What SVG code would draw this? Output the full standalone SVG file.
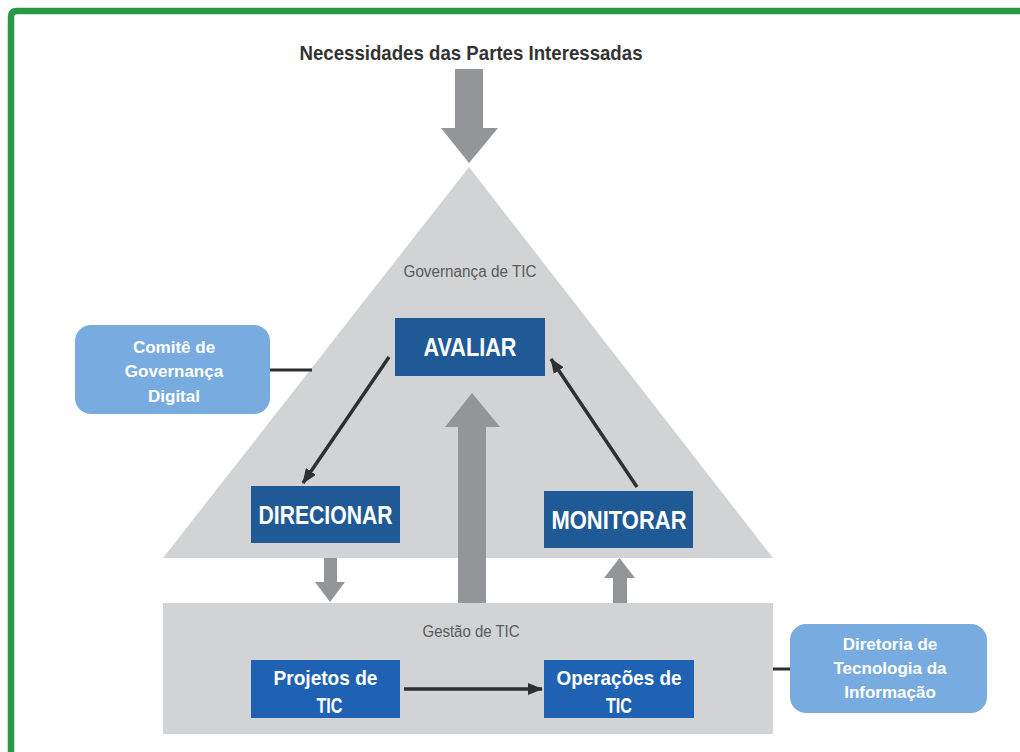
<svg xmlns="http://www.w3.org/2000/svg" width="1020" height="752" viewBox="0 0 1020 752">
<style>
.bg{fill:#ffffff}
.frame{fill:none;stroke:#2a9a46;stroke-width:6.5}
.light{fill:#d1d3d4}
.garrow{fill:#939598}
.dbox{fill:#1f5a96}
.pbox{fill:#1f62b3}
.lbox{fill:#78ace0}
.conn{stroke:#2f2f31;stroke-width:3.5;fill:none}
.line{stroke:#2f2f31;stroke-width:3;fill:none}
.btxt{font-family:"Liberation Sans",Arial,sans-serif;font-weight:bold;fill:#ffffff;text-anchor:middle}
.gtxt{font-family:"Liberation Sans",Arial,sans-serif;fill:#58595b;text-anchor:middle}
.title{font-family:"Liberation Sans",Arial,sans-serif;font-weight:bold;fill:#333333;text-anchor:middle}
</style>
<defs>
<marker id="ah" markerUnits="userSpaceOnUse" markerWidth="16" markerHeight="12" refX="14" refY="6" orient="auto">
<path d="M0,0 L15,6 L0,12 z" fill="#2f2f31"/>
</marker>
</defs>
<rect class="bg" x="0" y="0" width="1020" height="752"/>
<path class="frame" d="M11,752 V17 Q11,11 17,11 H1020"/>

<text class="title" x="471" y="60" font-size="21" textLength="343" lengthAdjust="spacingAndGlyphs">Necessidades das Partes Interessadas</text>

<g id="governanca">
<polygon class="light" points="469,167 773,558 163,558"/>
<text class="gtxt" x="470" y="277" font-size="16" textLength="133" lengthAdjust="spacingAndGlyphs">Governança de TIC</text>
</g>

<g id="gestao">
<rect class="light" x="163" y="603" width="610" height="131"/>
<text class="gtxt" x="471" y="637" font-size="16" textLength="97" lengthAdjust="spacingAndGlyphs">Gestão de TIC</text>
</g>

<g id="big-arrows">
<polygon class="garrow" points="455,69 483,69 483,128 498,128 469,163 441,128 455,128"/>
<polygon class="garrow" points="458,603 486,603 486,427 500,427 472,393 445,427 458,427"/>
<polygon class="garrow" points="324,558 337,558 337,582 345,582 330,602 315,582 324,582"/>
<polygon class="garrow" points="613,603 627,603 627,578 635,578 619.5,558 604,578 613,578"/>
</g>

<g id="avaliar">
<rect class="dbox" x="395" y="318" width="150" height="58"/>
<text class="btxt" x="470" y="356" font-size="25" textLength="93" lengthAdjust="spacingAndGlyphs">AVALIAR</text>
</g>

<g id="direcionar">
<rect class="dbox" x="251" y="486" width="149" height="57"/>
<text class="btxt" x="325.5" y="523.5" font-size="25" textLength="134" lengthAdjust="spacingAndGlyphs">DIRECIONAR</text>
</g>

<g id="monitorar">
<rect class="dbox" x="544" y="491" width="149" height="57"/>
<text class="btxt" x="619" y="528.5" font-size="25" textLength="135" lengthAdjust="spacingAndGlyphs">MONITORAR</text>
</g>

<g id="projetos">
<rect class="pbox" x="251" y="660" width="149" height="58"/>
<text class="btxt" x="325.5" y="685" font-size="21" textLength="104" lengthAdjust="spacingAndGlyphs">Projetos de</text>
<text class="btxt" x="329.5" y="713" font-size="22" textLength="26" lengthAdjust="spacingAndGlyphs">TIC</text>
</g>

<g id="operacoes">
<rect class="pbox" x="544" y="660" width="150" height="58"/>
<text class="btxt" x="619" y="685" font-size="21" textLength="125" lengthAdjust="spacingAndGlyphs">Operações de</text>
<text class="btxt" x="619" y="713" font-size="22" textLength="26" lengthAdjust="spacingAndGlyphs">TIC</text>
</g>

<g id="comite">
<rect class="lbox" x="75" y="325" width="195" height="89" rx="16" ry="16"/>
<text class="btxt" x="174" y="353" font-size="17">Comitê de</text>
<text class="btxt" x="174" y="377" font-size="17">Governança</text>
<text class="btxt" x="174" y="402" font-size="17">Digital</text>
</g>

<g id="diretoria">
<rect class="lbox" x="790" y="624" width="197" height="89" rx="16" ry="16"/>
<text class="btxt" x="890" y="650" font-size="17">Diretoria de</text>
<text class="btxt" x="890" y="674" font-size="17">Tecnologia da</text>
<text class="btxt" x="890" y="698" font-size="17">Informação</text>
</g>

<g id="connectors">
<line class="conn" x1="389" y1="357" x2="303" y2="483" marker-end="url(#ah)"/>
<line class="conn" x1="637" y1="487" x2="551" y2="359" marker-end="url(#ah)"/>
<line class="conn" x1="404" y1="689" x2="542" y2="689" marker-end="url(#ah)"/>
<line class="line" x1="270" y1="370" x2="312" y2="370"/>
<line class="line" x1="773" y1="669" x2="790" y2="669"/>
</g>
</svg>
